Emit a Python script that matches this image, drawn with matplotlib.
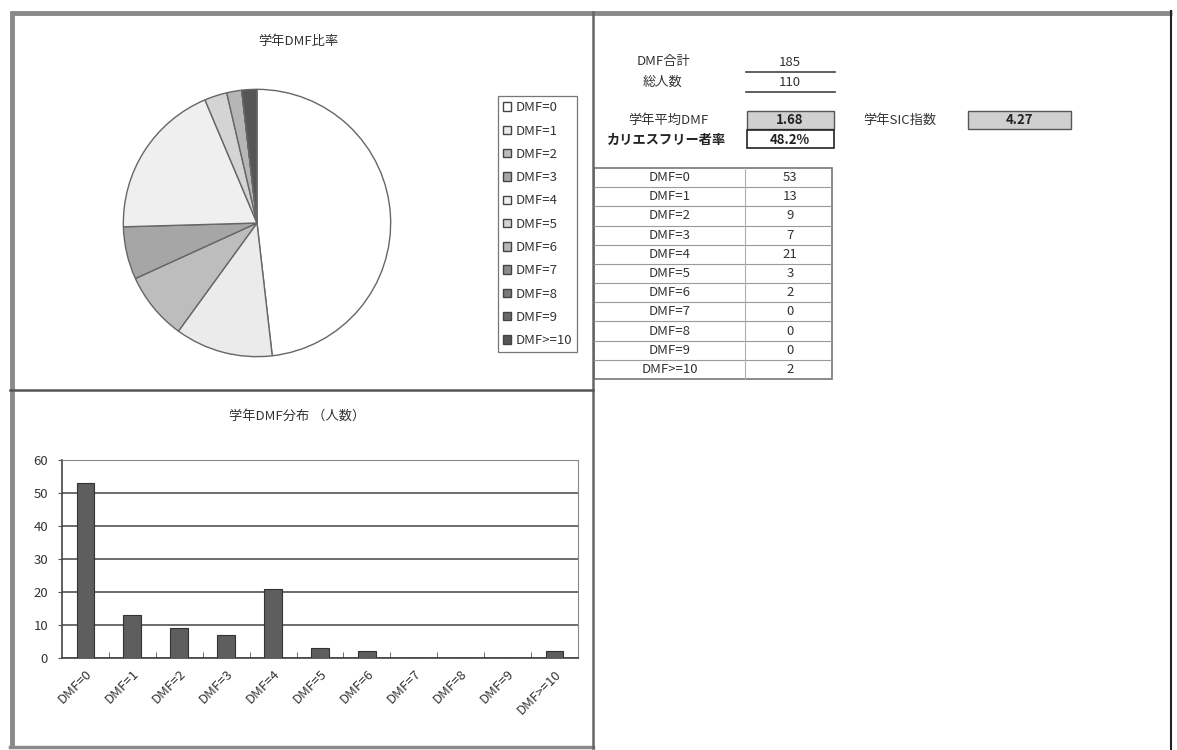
import matplotlib
matplotlib.use("Agg")
import matplotlib.pyplot as plt
from matplotlib.patches import Rectangle

plt.rcParams['font.family'] = ['Noto Sans CJK JP', 'DejaVu Sans']

# ---- data ----
categories = ["DMF=0", "DMF=1", "DMF=2", "DMF=3", "DMF=4", "DMF=5",
              "DMF=6", "DMF=7", "DMF=8", "DMF=9", "DMF>=10"]
counts = [53, 13, 9, 7, 21, 3, 2, 0, 0, 0, 2]
dmf_total = 185
total_students = 110
mean_dmf = "1.68"
sic_index = "4.27"
caries_free_rate = "48.2%"
y_ticks = [0, 10, 20, 30, 40, 50, 60]

slice_colors = ["#ffffff", "#ebebeb", "#bdbdbd", "#a6a6a6", "#efefef", "#d4d4d4",
                "#b6b6b6", "#8c8c8c", "#7a7a7a", "#6a6a6a", "#555555"]
text_color = "#333333"

W, H = 1177, 750
fig = plt.figure(figsize=(W / 100, H / 100), dpi=100)

# pixel-coordinate canvas for frame lines, texts and the table
bg = fig.add_axes([0, 0, 1, 1])
bg.set_xlim(0, W)
bg.set_ylim(H, 0)
bg.axis("off")

def px_axes(x0, y0, x1, y1):
    return fig.add_axes([x0 / W, 1 - y1 / H, (x1 - x0) / W, (y1 - y0) / H])

# outer frame
bg.plot([10, 1172], [13, 13], color="#8a8a8a", lw=3.5, solid_capstyle="butt")
bg.plot([11.5, 11.5], [11, 748], color="#8a8a8a", lw=3.5, solid_capstyle="butt")
bg.plot([1171, 1171], [11, 750], color="#222222", lw=1.5)
bg.plot([10, 593], [747, 747], color="#8a8a8a", lw=2.5)
bg.plot([593, 593], [12, 748], color="#666666", lw=1.8)
bg.plot([10, 593], [390, 390], color="#555555", lw=1.8)

# ---- pie chart ----
bg.text(298, 42, "学年DMF比率", ha="center", va="center", fontsize=9.5, color=text_color)
cx, cy, r = 257, 223, 135
pie_ax = px_axes(cx - r, cy - r, cx + r, cy + r)
wedges, _ = pie_ax.pie(counts, colors=slice_colors, startangle=90, counterclock=False,
                       wedgeprops=dict(edgecolor="#666666", linewidth=1.0))
pie_ax.set_xlim(-1.01, 1.01)
pie_ax.set_ylim(-1.01, 1.01)
pie_ax.set_aspect("equal")

leg = fig.legend(wedges, categories, loc="upper left",
                 bbox_to_anchor=(498 / W, 1 - 96 / H), fontsize=9.5,
                 handlelength=0.6, handleheight=0.6, handletextpad=0.3,
                 labelspacing=0.78, borderpad=0.4, borderaxespad=0, fancybox=False,
                 edgecolor="#777777", framealpha=1)
leg.get_frame().set_linewidth(0.9)
for t in leg.get_texts():
    t.set_color(text_color)
for h in leg.legend_handles:
    h.set_edgecolor("#444444")

# ---- bar chart ----
bg.text(297, 416, "学年DMF分布 （人数）", ha="center", va="center", fontsize=9.5, color=text_color)
bar_ax = px_axes(62, 460, 578, 658)
x = range(len(categories))
bar_ax.bar(x, counts, width=0.38, color="#5e5e5e", edgecolor="#333333", linewidth=0.8, zorder=3)
bar_ax.set_xlim(-0.5, len(categories) - 0.5)
bar_ax.set_ylim(0, 60)
bar_ax.set_yticks(y_ticks)
bar_ax.yaxis.grid(True, color="#444444", linewidth=1.1, zorder=0)
bar_ax.set_xticks(list(x))
bar_ax.set_xticklabels(categories, rotation=45, ha="right", rotation_mode="anchor",
                       fontsize=9.5, color=text_color)
bar_ax.tick_params(axis="x", length=0, pad=7)
bar_ax.set_xticks([i + 0.5 for i in range(len(categories) - 1)], minor=True)
bar_ax.tick_params(axis="x", which="minor", length=4, direction="in", color="#555555")
bar_ax.tick_params(axis="y", length=3, direction="out", labelsize=9.5, labelcolor=text_color,
                   color="#555555", pad=7)
for side in ["top", "right"]:
    bar_ax.spines[side].set_color("#888888")
    bar_ax.spines[side].set_linewidth(0.8)
for side in ["left", "bottom"]:
    bar_ax.spines[side].set_color("#444444")
    bar_ax.spines[side].set_linewidth(1.2)
bar_ax.set_facecolor("white")

# ---- summary block ----
fs = 9.5
bg.text(663, 62, "DMF合計", ha="center", va="center", fontsize=fs, color=text_color)
bg.text(790, 62, str(dmf_total), ha="center", va="center", fontsize=fs, color=text_color)
bg.plot([746, 835], [72, 72], color="#444444", lw=1.2)
bg.text(663, 82, "総人数", ha="center", va="center", fontsize=fs, color=text_color)
bg.text(790, 82, str(total_students), ha="center", va="center", fontsize=fs, color=text_color)
bg.plot([746, 835], [92, 92], color="#444444", lw=1.2)

bg.text(668, 120, "学年平均DMF", ha="center", va="center", fontsize=fs, color=text_color)
bg.add_patch(Rectangle((747, 111), 87, 18, facecolor="#d0d0d0", edgecolor="#555555", lw=1.0))
bg.text(790, 120, mean_dmf, ha="center", va="center", fontsize=fs, fontweight="bold", color="#222222")

bg.text(900, 120, "学年SIC指数", ha="center", va="center", fontsize=fs, color=text_color)
bg.add_patch(Rectangle((968, 111), 103, 18, facecolor="#d0d0d0", edgecolor="#555555", lw=1.0))
bg.text(1019, 120, sic_index, ha="center", va="center", fontsize=fs, fontweight="bold", color="#222222")

bg.text(667, 140, "カリエスフリー者率", ha="center", va="center", fontsize=fs, fontweight="bold", color="#222222")
bg.add_patch(Rectangle((747, 130), 87, 18, facecolor="white", edgecolor="#222222", lw=1.2))
bg.text(790, 140, caries_free_rate, ha="center", va="center", fontsize=fs, fontweight="bold", color="#222222")

# ---- count table ----
t_top, t_bot, t_left, t_mid, t_right = 168, 379, 594, 745, 832
row_h = (t_bot - t_top) / len(categories)
for i, (cat, n) in enumerate(zip(categories, counts)):
    yc = t_top + (i + 0.5) * row_h
    bg.text(670, yc, cat, ha="center", va="center", fontsize=fs, color=text_color)
    bg.text(790, yc, str(n), ha="center", va="center", fontsize=fs, color=text_color)
    if i > 0:
        yl = t_top + i * row_h
        bg.plot([t_left, t_right], [yl, yl], color="#9a9a9a", lw=0.8)
bg.plot([t_mid, t_mid], [t_top, t_bot], color="#b0b0b0", lw=0.8)
bg.add_patch(Rectangle((t_left, t_top), t_right - t_left, t_bot - t_top,
                       facecolor="none", edgecolor="#777777", lw=1.2))

fig.savefig("out.png", dpi=100, facecolor="white")
